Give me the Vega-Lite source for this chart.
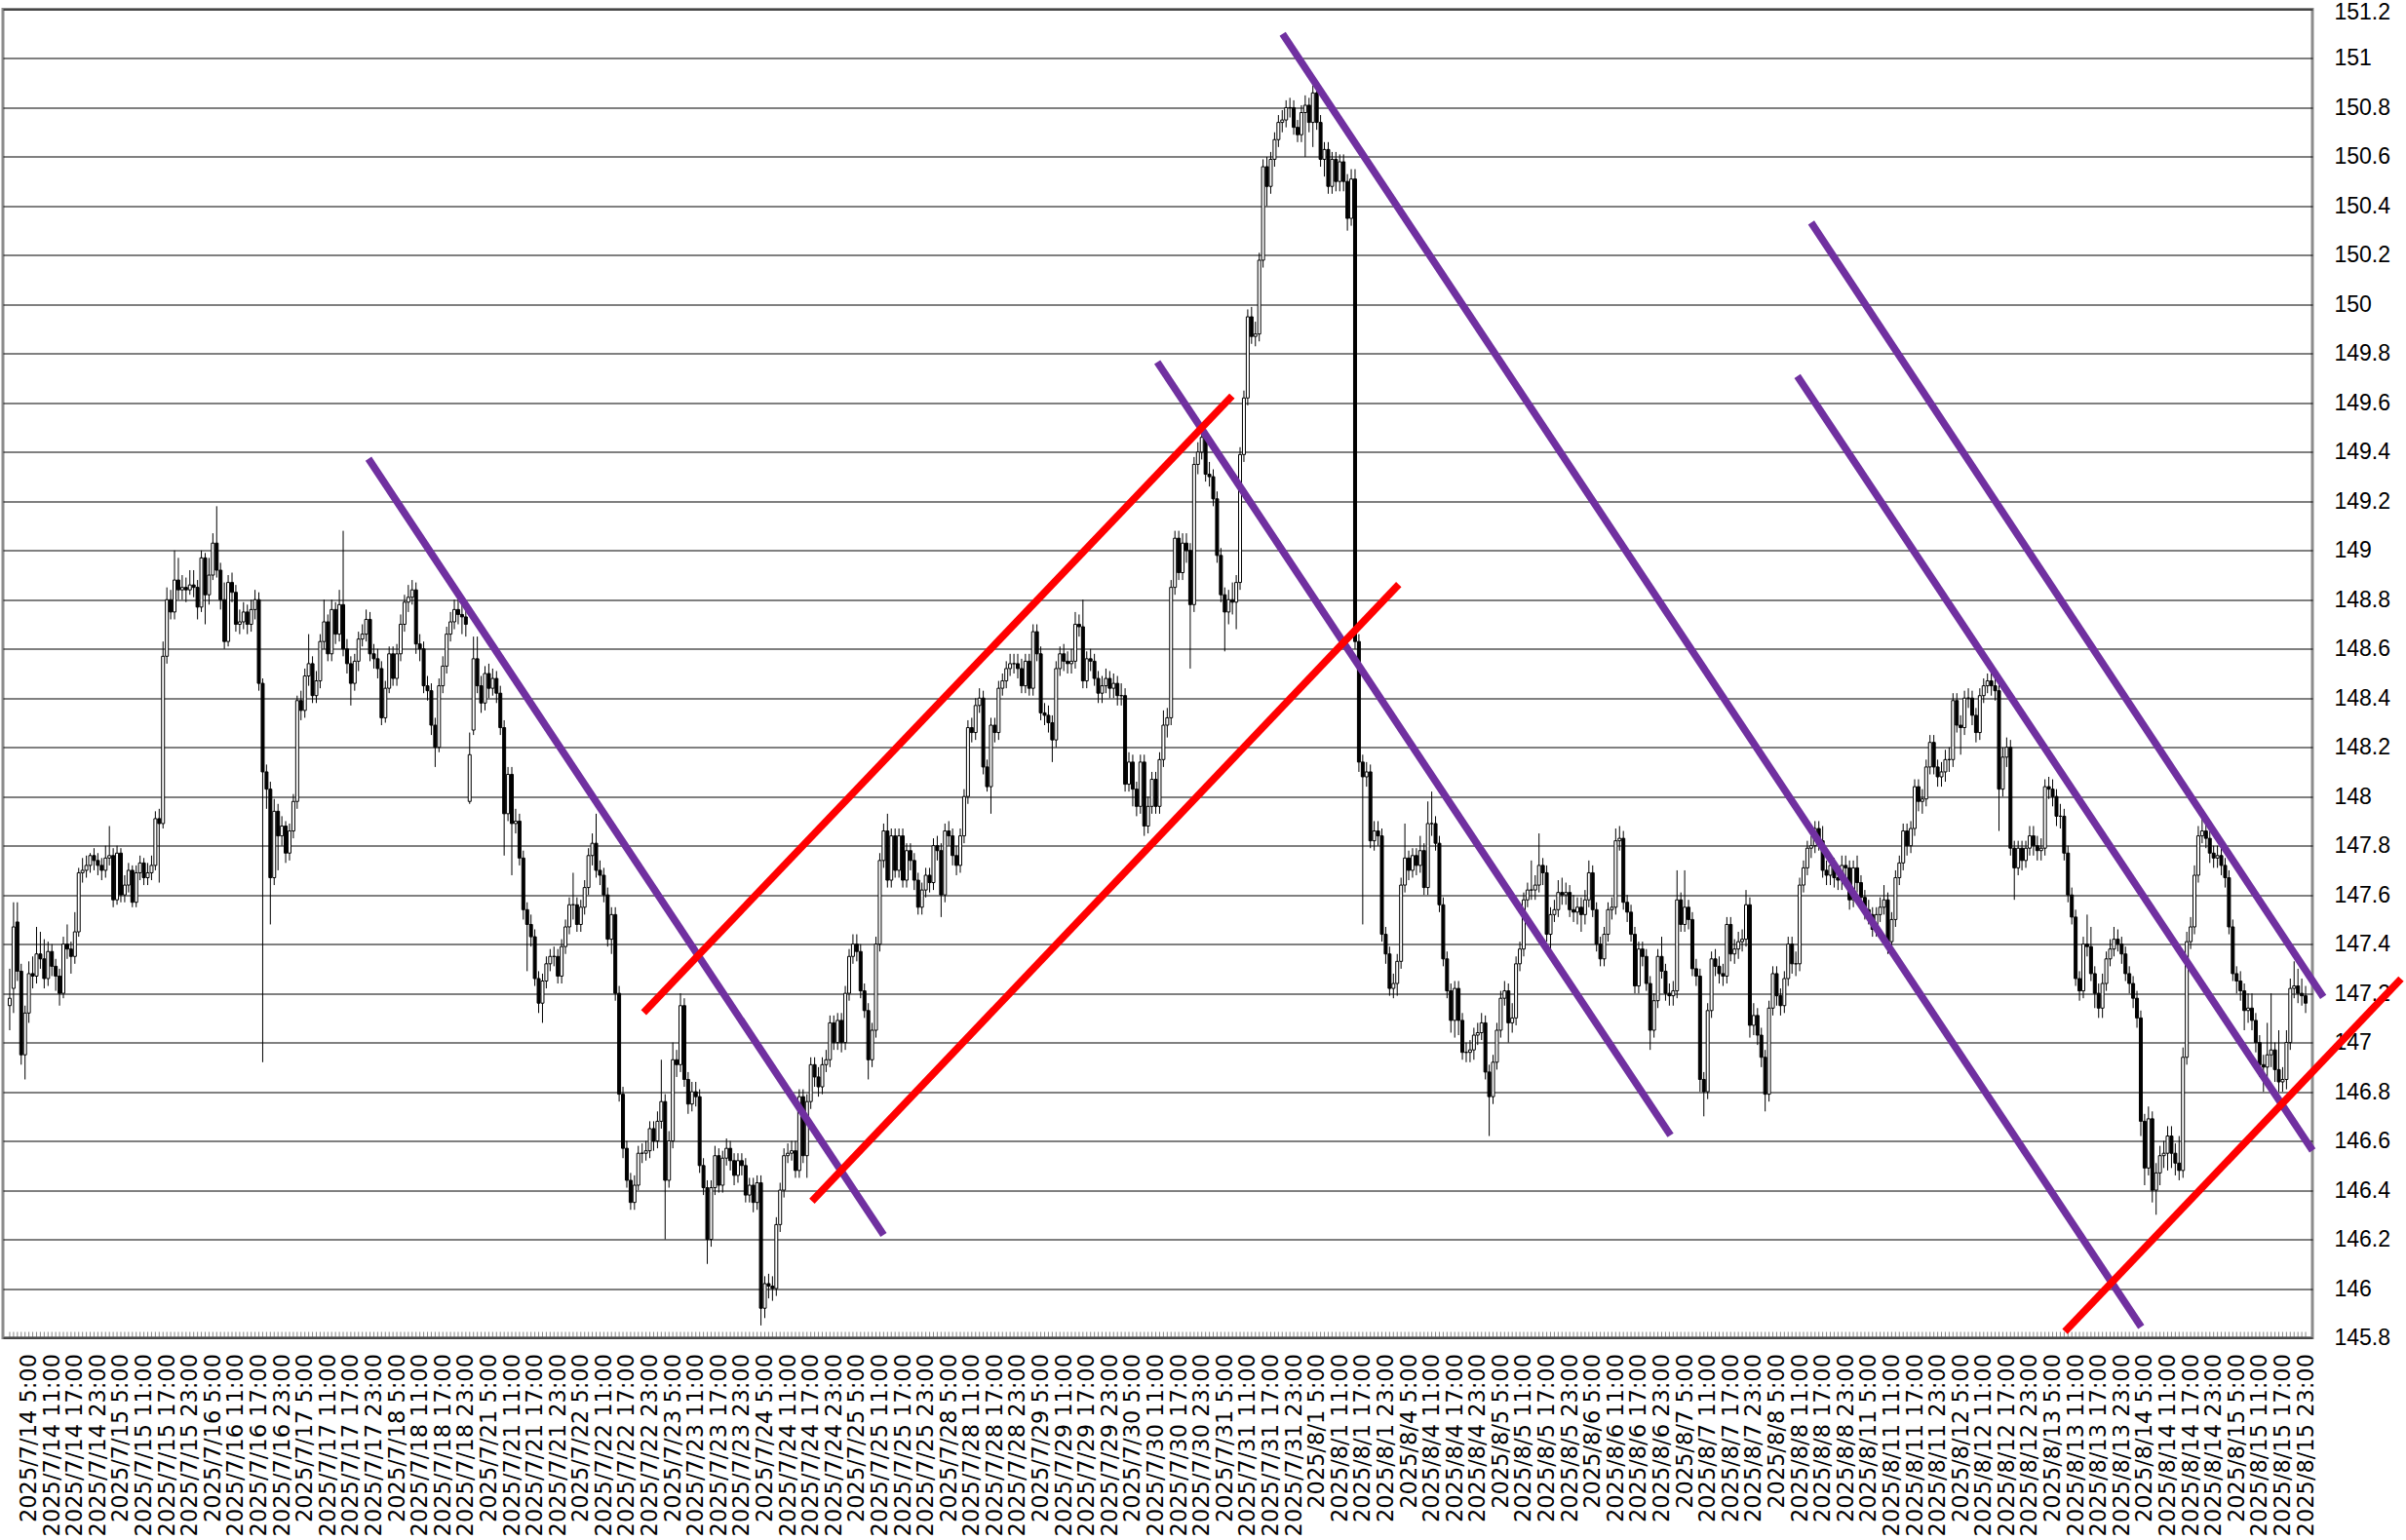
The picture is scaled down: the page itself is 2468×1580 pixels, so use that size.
{
"$schema":"https://vega.github.io/schema/vega-lite/v6.json",
"width":2369,"height":1363,
"autosize":{"type":"none"},
"padding":{"left":3,"top":9.5,"right":96,"bottom":207.5},
"background":"#ffffff",
"config":{"view":{"stroke":"#8c8c8c","strokeWidth":3}},
"resolve":{"axis":{"x":"independent","y":"independent"}},
"datasets":{
"candles":[
{"t":0,"o":147.15,"h":147.30,"l":147.05,"c":147.18},
{"t":1,"o":147.22,"h":147.57,"l":147.12,"c":147.47},
{"t":2,"o":147.49,"h":147.57,"l":147.25,"c":147.29},
{"t":3,"o":147.29,"h":147.32,"l":146.91,"c":146.95},
{"t":4,"o":146.95,"h":147.15,"l":146.85,"c":147.12},
{"t":5,"o":147.12,"h":147.33,"l":147.08,"c":147.28},
{"t":6,"o":147.28,"h":147.35,"l":147.22,"c":147.27},
{"t":7,"o":147.27,"h":147.47,"l":147.24,"c":147.36},
{"t":8,"o":147.36,"h":147.45,"l":147.30,"c":147.34},
{"t":9,"o":147.34,"h":147.42,"l":147.22,"c":147.26},
{"t":10,"o":147.26,"h":147.41,"l":147.23,"c":147.37},
{"t":11,"o":147.37,"h":147.40,"l":147.27,"c":147.31},
{"t":12,"o":147.31,"h":147.34,"l":147.21,"c":147.27},
{"t":13,"o":147.27,"h":147.30,"l":147.15,"c":147.20},
{"t":14,"o":147.20,"h":147.43,"l":147.18,"c":147.40},
{"t":15,"o":147.40,"h":147.48,"l":147.34,"c":147.38},
{"t":16,"o":147.38,"h":147.41,"l":147.28,"c":147.35},
{"t":17,"o":147.35,"h":147.53,"l":147.32,"c":147.45},
{"t":18,"o":147.45,"h":147.71,"l":147.43,"c":147.69},
{"t":19,"o":147.69,"h":147.75,"l":147.65,"c":147.70},
{"t":20,"o":147.70,"h":147.76,"l":147.67,"c":147.72},
{"t":21,"o":147.72,"h":147.77,"l":147.69,"c":147.76},
{"t":22,"o":147.76,"h":147.79,"l":147.70,"c":147.74},
{"t":23,"o":147.74,"h":147.77,"l":147.68,"c":147.72},
{"t":24,"o":147.72,"h":147.75,"l":147.66,"c":147.70},
{"t":25,"o":147.70,"h":147.80,"l":147.67,"c":147.75},
{"t":26,"o":147.75,"h":147.88,"l":147.72,"c":147.76},
{"t":27,"o":147.76,"h":147.79,"l":147.55,"c":147.58},
{"t":28,"o":147.58,"h":147.80,"l":147.56,"c":147.77},
{"t":29,"o":147.77,"h":147.79,"l":147.57,"c":147.60},
{"t":30,"o":147.60,"h":147.68,"l":147.57,"c":147.64},
{"t":31,"o":147.64,"h":147.73,"l":147.61,"c":147.70},
{"t":32,"o":147.70,"h":147.72,"l":147.55,"c":147.57},
{"t":33,"o":147.57,"h":147.72,"l":147.55,"c":147.69},
{"t":34,"o":147.69,"h":147.76,"l":147.66,"c":147.73},
{"t":35,"o":147.73,"h":147.75,"l":147.64,"c":147.67},
{"t":36,"o":147.67,"h":147.73,"l":147.64,"c":147.69},
{"t":37,"o":147.69,"h":147.76,"l":147.66,"c":147.72},
{"t":38,"o":147.72,"h":147.94,"l":147.70,"c":147.91},
{"t":39,"o":147.91,"h":147.95,"l":147.65,"c":147.89},
{"t":40,"o":147.89,"h":148.63,"l":147.87,"c":148.57},
{"t":41,"o":148.57,"h":148.85,"l":148.54,"c":148.80},
{"t":42,"o":148.80,"h":148.84,"l":148.72,"c":148.75},
{"t":43,"o":148.75,"h":149.00,"l":148.72,"c":148.88},
{"t":44,"o":148.88,"h":148.97,"l":148.80,"c":148.84},
{"t":45,"o":148.84,"h":148.90,"l":148.80,"c":148.85},
{"t":46,"o":148.85,"h":148.89,"l":148.79,"c":148.84},
{"t":47,"o":148.84,"h":148.92,"l":148.82,"c":148.86},
{"t":48,"o":148.86,"h":148.92,"l":148.81,"c":148.85},
{"t":49,"o":148.85,"h":148.88,"l":148.72,"c":148.77},
{"t":50,"o":148.77,"h":149.00,"l":148.75,"c":148.97},
{"t":51,"o":148.97,"h":148.99,"l":148.70,"c":148.82},
{"t":52,"o":148.82,"h":148.97,"l":148.78,"c":148.90},
{"t":53,"o":148.90,"h":149.07,"l":148.88,"c":149.03},
{"t":54,"o":149.03,"h":149.18,"l":148.89,"c":148.92},
{"t":55,"o":148.92,"h":148.95,"l":148.76,"c":148.80},
{"t":56,"o":148.80,"h":148.87,"l":148.60,"c":148.63},
{"t":57,"o":148.63,"h":148.90,"l":148.61,"c":148.87},
{"t":58,"o":148.87,"h":148.91,"l":148.79,"c":148.83},
{"t":59,"o":148.83,"h":148.86,"l":148.67,"c":148.70},
{"t":60,"o":148.70,"h":148.76,"l":148.66,"c":148.71},
{"t":61,"o":148.71,"h":148.79,"l":148.68,"c":148.75},
{"t":62,"o":148.75,"h":148.78,"l":148.66,"c":148.70},
{"t":63,"o":148.70,"h":148.80,"l":148.67,"c":148.76},
{"t":64,"o":148.76,"h":148.84,"l":148.72,"c":148.80},
{"t":65,"o":148.80,"h":148.83,"l":148.43,"c":148.46},
{"t":66,"o":148.46,"h":148.48,"l":146.92,"c":148.10},
{"t":67,"o":148.10,"h":148.13,"l":147.95,"c":148.03},
{"t":68,"o":148.03,"h":148.06,"l":147.48,"c":147.67},
{"t":69,"o":147.67,"h":147.99,"l":147.64,"c":147.94},
{"t":70,"o":147.94,"h":147.97,"l":147.70,"c":147.84},
{"t":71,"o":147.84,"h":147.92,"l":147.80,"c":147.88},
{"t":72,"o":147.88,"h":147.90,"l":147.73,"c":147.77},
{"t":73,"o":147.77,"h":147.89,"l":147.74,"c":147.86},
{"t":74,"o":147.86,"h":148.01,"l":147.83,"c":147.98},
{"t":75,"o":147.98,"h":148.41,"l":147.95,"c":148.39},
{"t":76,"o":148.39,"h":148.43,"l":148.31,"c":148.35},
{"t":77,"o":148.35,"h":148.52,"l":148.32,"c":148.49},
{"t":78,"o":148.49,"h":148.66,"l":148.45,"c":148.54},
{"t":79,"o":148.54,"h":148.57,"l":148.38,"c":148.41},
{"t":80,"o":148.41,"h":148.51,"l":148.38,"c":148.47},
{"t":81,"o":148.47,"h":148.66,"l":148.44,"c":148.63},
{"t":82,"o":148.63,"h":148.80,"l":148.60,"c":148.71},
{"t":83,"o":148.71,"h":148.74,"l":148.55,"c":148.58},
{"t":84,"o":148.58,"h":148.80,"l":148.55,"c":148.76},
{"t":85,"o":148.76,"h":148.79,"l":148.62,"c":148.66},
{"t":86,"o":148.66,"h":148.84,"l":148.63,"c":148.78},
{"t":87,"o":148.78,"h":149.08,"l":148.57,"c":148.60},
{"t":88,"o":148.60,"h":148.64,"l":148.50,"c":148.54},
{"t":89,"o":148.54,"h":148.57,"l":148.37,"c":148.46},
{"t":90,"o":148.46,"h":148.58,"l":148.43,"c":148.55},
{"t":91,"o":148.55,"h":148.67,"l":148.51,"c":148.64},
{"t":92,"o":148.64,"h":148.70,"l":148.61,"c":148.66},
{"t":93,"o":148.66,"h":148.76,"l":148.63,"c":148.72},
{"t":94,"o":148.72,"h":148.75,"l":148.55,"c":148.58},
{"t":95,"o":148.58,"h":148.62,"l":148.52,"c":148.56},
{"t":96,"o":148.56,"h":148.60,"l":148.48,"c":148.52},
{"t":97,"o":148.52,"h":148.55,"l":148.29,"c":148.32},
{"t":98,"o":148.32,"h":148.47,"l":148.30,"c":148.44},
{"t":99,"o":148.44,"h":148.61,"l":148.42,"c":148.58},
{"t":100,"o":148.58,"h":148.61,"l":148.45,"c":148.48},
{"t":101,"o":148.48,"h":148.62,"l":148.45,"c":148.58},
{"t":102,"o":148.58,"h":148.74,"l":148.55,"c":148.70},
{"t":103,"o":148.70,"h":148.82,"l":148.67,"c":148.79},
{"t":104,"o":148.79,"h":148.86,"l":148.75,"c":148.81},
{"t":105,"o":148.81,"h":148.88,"l":148.78,"c":148.84},
{"t":106,"o":148.84,"h":148.87,"l":148.58,"c":148.62},
{"t":107,"o":148.62,"h":148.66,"l":148.55,"c":148.60},
{"t":108,"o":148.60,"h":148.63,"l":148.42,"c":148.45},
{"t":109,"o":148.45,"h":148.49,"l":148.39,"c":148.43},
{"t":110,"o":148.43,"h":148.46,"l":148.25,"c":148.29},
{"t":111,"o":148.29,"h":148.32,"l":148.12,"c":148.20},
{"t":112,"o":148.20,"h":148.48,"l":148.18,"c":148.45},
{"t":113,"o":148.45,"h":148.57,"l":148.42,"c":148.53},
{"t":114,"o":148.53,"h":148.69,"l":148.50,"c":148.66},
{"t":115,"o":148.66,"h":148.75,"l":148.63,"c":148.71},
{"t":116,"o":148.71,"h":148.80,"l":148.68,"c":148.76},
{"t":117,"o":148.76,"h":148.81,"l":148.70,"c":148.74},
{"t":118,"o":148.74,"h":148.78,"l":148.66,"c":148.73},
{"t":119,"o":148.73,"h":148.76,"l":148.65,"c":148.70},
{"t":120,"o":147.98,"h":148.26,"l":147.97,"c":148.17},
{"t":121,"o":148.27,"h":148.65,"l":148.25,"c":148.56},
{"t":122,"o":148.56,"h":148.65,"l":148.42,"c":148.45},
{"t":123,"o":148.45,"h":148.49,"l":148.34,"c":148.38},
{"t":124,"o":148.38,"h":148.53,"l":148.35,"c":148.50},
{"t":125,"o":148.50,"h":148.54,"l":148.40,"c":148.44},
{"t":126,"o":148.44,"h":148.52,"l":148.41,"c":148.48},
{"t":127,"o":148.48,"h":148.51,"l":148.38,"c":148.42},
{"t":128,"o":148.42,"h":148.45,"l":148.25,"c":148.28},
{"t":129,"o":148.28,"h":148.31,"l":147.76,"c":147.93},
{"t":130,"o":147.93,"h":148.12,"l":147.90,"c":148.09},
{"t":131,"o":148.09,"h":148.12,"l":147.68,"c":147.89},
{"t":132,"o":147.89,"h":147.95,"l":147.85,"c":147.90},
{"t":133,"o":147.90,"h":147.93,"l":147.72,"c":147.75},
{"t":134,"o":147.75,"h":147.78,"l":147.50,"c":147.54},
{"t":135,"o":147.54,"h":147.57,"l":147.29,"c":147.48},
{"t":136,"o":147.48,"h":147.52,"l":147.39,"c":147.43},
{"t":137,"o":147.43,"h":147.46,"l":147.23,"c":147.26},
{"t":138,"o":147.26,"h":147.29,"l":147.12,"c":147.16},
{"t":139,"o":147.16,"h":147.28,"l":147.08,"c":147.25},
{"t":140,"o":147.25,"h":147.35,"l":147.22,"c":147.32},
{"t":141,"o":147.32,"h":147.38,"l":147.29,"c":147.35},
{"t":142,"o":147.35,"h":147.39,"l":147.31,"c":147.35},
{"t":143,"o":147.35,"h":147.38,"l":147.24,"c":147.27},
{"t":144,"o":147.27,"h":147.42,"l":147.24,"c":147.39},
{"t":145,"o":147.39,"h":147.50,"l":147.36,"c":147.47},
{"t":146,"o":147.47,"h":147.59,"l":147.44,"c":147.56},
{"t":147,"o":147.56,"h":147.69,"l":147.50,"c":147.56},
{"t":148,"o":147.56,"h":147.59,"l":147.45,"c":147.48},
{"t":149,"o":147.48,"h":147.58,"l":147.45,"c":147.55},
{"t":150,"o":147.55,"h":147.66,"l":147.52,"c":147.63},
{"t":151,"o":147.63,"h":147.79,"l":147.60,"c":147.76},
{"t":152,"o":147.76,"h":147.85,"l":147.72,"c":147.81},
{"t":153,"o":147.81,"h":147.93,"l":147.67,"c":147.70},
{"t":154,"o":147.70,"h":147.74,"l":147.64,"c":147.68},
{"t":155,"o":147.68,"h":147.71,"l":147.57,"c":147.60},
{"t":156,"o":147.60,"h":147.63,"l":147.39,"c":147.42},
{"t":157,"o":147.42,"h":147.55,"l":147.36,"c":147.52},
{"t":158,"o":147.52,"h":147.55,"l":147.17,"c":147.20},
{"t":159,"o":147.20,"h":147.23,"l":146.76,"c":146.79},
{"t":160,"o":146.79,"h":146.82,"l":146.53,"c":146.57},
{"t":161,"o":146.57,"h":146.60,"l":146.41,"c":146.44},
{"t":162,"o":146.44,"h":146.47,"l":146.32,"c":146.35},
{"t":163,"o":146.35,"h":146.46,"l":146.32,"c":146.42},
{"t":164,"o":146.42,"h":146.58,"l":146.40,"c":146.55},
{"t":165,"o":146.55,"h":146.59,"l":146.51,"c":146.55},
{"t":166,"o":146.55,"h":146.60,"l":146.52,"c":146.56},
{"t":167,"o":146.56,"h":146.68,"l":146.53,"c":146.65},
{"t":168,"o":146.65,"h":146.68,"l":146.56,"c":146.60},
{"t":169,"o":146.60,"h":146.72,"l":146.57,"c":146.68},
{"t":170,"o":146.68,"h":146.93,"l":146.65,"c":146.76},
{"t":171,"o":146.76,"h":146.79,"l":146.20,"c":146.44},
{"t":172,"o":146.44,"h":146.64,"l":146.41,"c":146.60},
{"t":173,"o":146.60,"h":147.00,"l":146.57,"c":146.93},
{"t":174,"o":146.93,"h":146.97,"l":146.86,"c":146.91},
{"t":175,"o":146.91,"h":147.20,"l":146.88,"c":147.15},
{"t":176,"o":147.15,"h":147.18,"l":146.82,"c":146.85},
{"t":177,"o":146.85,"h":146.88,"l":146.71,"c":146.75},
{"t":178,"o":146.75,"h":146.84,"l":146.72,"c":146.80},
{"t":179,"o":146.80,"h":146.84,"l":146.74,"c":146.78},
{"t":180,"o":146.78,"h":146.81,"l":146.47,"c":146.50},
{"t":181,"o":146.50,"h":146.53,"l":146.38,"c":146.41},
{"t":182,"o":146.41,"h":146.44,"l":146.10,"c":146.20},
{"t":183,"o":146.20,"h":146.44,"l":146.17,"c":146.41},
{"t":184,"o":146.41,"h":146.58,"l":146.38,"c":146.54},
{"t":185,"o":146.54,"h":146.57,"l":146.39,"c":146.42},
{"t":186,"o":146.42,"h":146.56,"l":146.39,"c":146.53},
{"t":187,"o":146.53,"h":146.61,"l":146.50,"c":146.57},
{"t":188,"o":146.57,"h":146.60,"l":146.48,"c":146.52},
{"t":189,"o":146.52,"h":146.55,"l":146.42,"c":146.46},
{"t":190,"o":146.46,"h":146.55,"l":146.43,"c":146.52},
{"t":191,"o":146.52,"h":146.55,"l":146.46,"c":146.50},
{"t":192,"o":146.50,"h":146.53,"l":146.35,"c":146.38},
{"t":193,"o":146.38,"h":146.45,"l":146.35,"c":146.42},
{"t":194,"o":146.42,"h":146.45,"l":146.31,"c":146.35},
{"t":195,"o":146.35,"h":146.46,"l":146.32,"c":146.43},
{"t":196,"o":146.43,"h":146.46,"l":145.85,"c":145.92},
{"t":197,"o":145.92,"h":146.05,"l":145.88,"c":146.02},
{"t":198,"o":146.02,"h":146.06,"l":145.96,"c":146.01},
{"t":199,"o":146.01,"h":146.05,"l":145.95,"c":146.00},
{"t":200,"o":146.00,"h":146.29,"l":145.97,"c":146.26},
{"t":201,"o":146.26,"h":146.43,"l":146.23,"c":146.40},
{"t":202,"o":146.40,"h":146.57,"l":146.37,"c":146.54},
{"t":203,"o":146.54,"h":146.59,"l":146.51,"c":146.55},
{"t":204,"o":146.55,"h":146.60,"l":146.52,"c":146.56},
{"t":205,"o":146.56,"h":146.60,"l":146.45,"c":146.48},
{"t":206,"o":146.48,"h":146.81,"l":146.45,"c":146.78},
{"t":207,"o":146.78,"h":146.81,"l":146.51,"c":146.54},
{"t":208,"o":146.54,"h":146.79,"l":146.45,"c":146.76},
{"t":209,"o":146.76,"h":146.94,"l":146.73,"c":146.91},
{"t":210,"o":146.91,"h":146.94,"l":146.82,"c":146.86},
{"t":211,"o":146.86,"h":146.90,"l":146.78,"c":146.82},
{"t":212,"o":146.82,"h":146.94,"l":146.79,"c":146.91},
{"t":213,"o":146.91,"h":146.97,"l":146.88,"c":146.93},
{"t":214,"o":146.93,"h":147.11,"l":146.90,"c":147.08},
{"t":215,"o":147.08,"h":147.11,"l":146.97,"c":147.00},
{"t":216,"o":147.00,"h":147.12,"l":146.97,"c":147.09},
{"t":217,"o":147.09,"h":147.12,"l":146.96,"c":147.00},
{"t":218,"o":147.00,"h":147.23,"l":146.97,"c":147.20},
{"t":219,"o":147.20,"h":147.38,"l":147.17,"c":147.35},
{"t":220,"o":147.35,"h":147.44,"l":147.32,"c":147.40},
{"t":221,"o":147.40,"h":147.44,"l":147.33,"c":147.37},
{"t":222,"o":147.37,"h":147.40,"l":147.18,"c":147.21},
{"t":223,"o":147.21,"h":147.24,"l":147.10,"c":147.13},
{"t":224,"o":147.13,"h":147.16,"l":146.85,"c":146.93},
{"t":225,"o":146.93,"h":147.08,"l":146.90,"c":147.05},
{"t":226,"o":147.05,"h":147.43,"l":147.02,"c":147.40},
{"t":227,"o":147.40,"h":147.77,"l":147.37,"c":147.74},
{"t":228,"o":147.74,"h":147.89,"l":147.71,"c":147.86},
{"t":229,"o":147.86,"h":147.93,"l":147.63,"c":147.66},
{"t":230,"o":147.66,"h":147.87,"l":147.63,"c":147.84},
{"t":231,"o":147.84,"h":147.87,"l":147.67,"c":147.70},
{"t":232,"o":147.70,"h":147.87,"l":147.67,"c":147.84},
{"t":233,"o":147.84,"h":147.87,"l":147.63,"c":147.66},
{"t":234,"o":147.66,"h":147.81,"l":147.63,"c":147.78},
{"t":235,"o":147.78,"h":147.81,"l":147.70,"c":147.74},
{"t":236,"o":147.74,"h":147.77,"l":147.62,"c":147.66},
{"t":237,"o":147.66,"h":147.69,"l":147.52,"c":147.55},
{"t":238,"o":147.55,"h":147.65,"l":147.52,"c":147.62},
{"t":239,"o":147.62,"h":147.71,"l":147.59,"c":147.68},
{"t":240,"o":147.68,"h":147.71,"l":147.61,"c":147.65},
{"t":241,"o":147.65,"h":147.83,"l":147.62,"c":147.80},
{"t":242,"o":147.80,"h":147.84,"l":147.74,"c":147.78},
{"t":243,"o":147.78,"h":147.81,"l":147.51,"c":147.60},
{"t":244,"o":147.60,"h":147.89,"l":147.57,"c":147.86},
{"t":245,"o":147.86,"h":147.90,"l":147.80,"c":147.84},
{"t":246,"o":147.84,"h":147.87,"l":147.72,"c":147.76},
{"t":247,"o":147.76,"h":147.80,"l":147.68,"c":147.72},
{"t":248,"o":147.72,"h":147.87,"l":147.69,"c":147.84},
{"t":249,"o":147.84,"h":148.03,"l":147.81,"c":148.00},
{"t":250,"o":148.00,"h":148.31,"l":147.97,"c":148.28},
{"t":251,"o":148.28,"h":148.32,"l":148.22,"c":148.26},
{"t":252,"o":148.26,"h":148.40,"l":148.23,"c":148.37},
{"t":253,"o":148.37,"h":148.44,"l":148.34,"c":148.40},
{"t":254,"o":148.40,"h":148.43,"l":148.09,"c":148.12},
{"t":255,"o":148.12,"h":148.15,"l":148.02,"c":148.04},
{"t":256,"o":148.04,"h":148.32,"l":147.93,"c":148.29},
{"t":257,"o":148.29,"h":148.32,"l":148.22,"c":148.26},
{"t":258,"o":148.26,"h":148.47,"l":148.23,"c":148.44},
{"t":259,"o":148.44,"h":148.50,"l":148.41,"c":148.47},
{"t":260,"o":148.47,"h":148.55,"l":148.44,"c":148.52},
{"t":261,"o":148.52,"h":148.58,"l":148.49,"c":148.54},
{"t":262,"o":148.54,"h":148.58,"l":148.50,"c":148.54},
{"t":263,"o":148.54,"h":148.58,"l":148.48,"c":148.52},
{"t":264,"o":148.52,"h":148.56,"l":148.42,"c":148.45},
{"t":265,"o":148.45,"h":148.58,"l":148.42,"c":148.55},
{"t":266,"o":148.55,"h":148.58,"l":148.41,"c":148.44},
{"t":267,"o":148.44,"h":148.70,"l":148.41,"c":148.67},
{"t":268,"o":148.67,"h":148.70,"l":148.55,"c":148.58},
{"t":269,"o":148.58,"h":148.61,"l":148.31,"c":148.34},
{"t":270,"o":148.34,"h":148.38,"l":148.29,"c":148.33},
{"t":271,"o":148.33,"h":148.37,"l":148.26,"c":148.30},
{"t":272,"o":148.30,"h":148.33,"l":148.14,"c":148.23},
{"t":273,"o":148.23,"h":148.55,"l":148.20,"c":148.52},
{"t":274,"o":148.52,"h":148.61,"l":148.49,"c":148.58},
{"t":275,"o":148.58,"h":148.62,"l":148.51,"c":148.55},
{"t":276,"o":148.55,"h":148.59,"l":148.50,"c":148.54},
{"t":277,"o":148.54,"h":148.60,"l":148.50,"c":148.55},
{"t":278,"o":148.55,"h":148.75,"l":148.52,"c":148.70},
{"t":279,"o":148.70,"h":148.74,"l":148.65,"c":148.69},
{"t":280,"o":148.69,"h":148.80,"l":148.44,"c":148.47},
{"t":281,"o":148.47,"h":148.59,"l":148.44,"c":148.56},
{"t":282,"o":148.56,"h":148.60,"l":148.51,"c":148.55},
{"t":283,"o":148.55,"h":148.58,"l":148.45,"c":148.48},
{"t":284,"o":148.48,"h":148.51,"l":148.38,"c":148.42},
{"t":285,"o":148.42,"h":148.49,"l":148.38,"c":148.45},
{"t":286,"o":148.45,"h":148.52,"l":148.42,"c":148.48},
{"t":287,"o":148.48,"h":148.51,"l":148.40,"c":148.44},
{"t":288,"o":148.44,"h":148.50,"l":148.40,"c":148.46},
{"t":289,"o":148.46,"h":148.49,"l":148.37,"c":148.41},
{"t":290,"o":148.41,"h":148.46,"l":148.37,"c":148.41},
{"t":291,"o":148.41,"h":148.44,"l":148.02,"c":148.05},
{"t":292,"o":148.05,"h":148.18,"l":148.02,"c":148.14},
{"t":293,"o":148.14,"h":148.17,"l":147.96,"c":148.03},
{"t":294,"o":148.03,"h":148.06,"l":147.92,"c":147.96},
{"t":295,"o":147.96,"h":148.17,"l":147.93,"c":148.14},
{"t":296,"o":148.14,"h":148.17,"l":147.84,"c":147.88},
{"t":297,"o":147.88,"h":148.00,"l":147.85,"c":147.96},
{"t":298,"o":147.96,"h":148.10,"l":147.93,"c":148.07},
{"t":299,"o":148.07,"h":148.10,"l":147.93,"c":147.96},
{"t":300,"o":147.96,"h":148.18,"l":147.93,"c":148.15},
{"t":301,"o":148.15,"h":148.35,"l":148.12,"c":148.29},
{"t":302,"o":148.29,"h":148.36,"l":148.24,"c":148.32},
{"t":303,"o":148.32,"h":148.88,"l":148.29,"c":148.85},
{"t":304,"o":148.85,"h":149.08,"l":148.82,"c":149.05},
{"t":305,"o":149.05,"h":149.08,"l":148.88,"c":148.91},
{"t":306,"o":148.91,"h":149.07,"l":148.88,"c":149.03},
{"t":307,"o":149.03,"h":149.07,"l":148.95,"c":149.00},
{"t":308,"o":149.00,"h":149.03,"l":148.52,"c":148.78},
{"t":309,"o":148.78,"h":149.38,"l":148.75,"c":149.35},
{"t":310,"o":149.35,"h":149.44,"l":149.31,"c":149.40},
{"t":311,"o":149.40,"h":149.50,"l":149.37,"c":149.46},
{"t":312,"o":149.46,"h":149.49,"l":149.28,"c":149.31},
{"t":313,"o":149.31,"h":149.36,"l":149.26,"c":149.30},
{"t":314,"o":149.30,"h":149.33,"l":149.18,"c":149.21},
{"t":315,"o":149.21,"h":149.24,"l":148.95,"c":148.98},
{"t":316,"o":148.98,"h":149.01,"l":148.79,"c":148.82},
{"t":317,"o":148.82,"h":148.85,"l":148.59,"c":148.75},
{"t":318,"o":148.75,"h":148.84,"l":148.70,"c":148.80},
{"t":319,"o":148.80,"h":148.87,"l":148.74,"c":148.79},
{"t":320,"o":148.79,"h":148.90,"l":148.68,"c":148.87},
{"t":321,"o":148.87,"h":149.42,"l":148.84,"c":149.39},
{"t":322,"o":149.39,"h":149.65,"l":149.36,"c":149.62},
{"t":323,"o":149.62,"h":149.98,"l":149.59,"c":149.95},
{"t":324,"o":149.95,"h":149.99,"l":149.84,"c":149.87},
{"t":325,"o":149.87,"h":149.93,"l":149.83,"c":149.88},
{"t":326,"o":149.88,"h":150.21,"l":149.85,"c":150.18},
{"t":327,"o":150.18,"h":150.59,"l":150.15,"c":150.56},
{"t":328,"o":150.56,"h":150.60,"l":150.40,"c":150.48},
{"t":329,"o":150.48,"h":150.62,"l":150.45,"c":150.59},
{"t":330,"o":150.59,"h":150.70,"l":150.56,"c":150.67},
{"t":331,"o":150.67,"h":150.77,"l":150.64,"c":150.74},
{"t":332,"o":150.74,"h":150.79,"l":150.70,"c":150.75},
{"t":333,"o":150.75,"h":150.83,"l":150.72,"c":150.80},
{"t":334,"o":150.80,"h":150.84,"l":150.76,"c":150.80},
{"t":335,"o":150.80,"h":150.83,"l":150.69,"c":150.72},
{"t":336,"o":150.72,"h":150.75,"l":150.66,"c":150.69},
{"t":337,"o":150.69,"h":150.81,"l":150.66,"c":150.78},
{"t":338,"o":150.78,"h":150.85,"l":150.60,"c":150.81},
{"t":339,"o":150.81,"h":150.84,"l":150.70,"c":150.74},
{"t":340,"o":150.74,"h":150.89,"l":150.64,"c":150.86},
{"t":341,"o":150.86,"h":150.91,"l":150.71,"c":150.74},
{"t":342,"o":150.74,"h":150.77,"l":150.56,"c":150.59},
{"t":343,"o":150.59,"h":150.66,"l":150.52,"c":150.63},
{"t":344,"o":150.63,"h":150.66,"l":150.45,"c":150.48},
{"t":345,"o":150.48,"h":150.62,"l":150.45,"c":150.59},
{"t":346,"o":150.59,"h":150.62,"l":150.46,"c":150.50},
{"t":347,"o":150.50,"h":150.61,"l":150.46,"c":150.58},
{"t":348,"o":150.58,"h":150.61,"l":150.46,"c":150.50},
{"t":349,"o":150.50,"h":150.53,"l":150.30,"c":150.35},
{"t":350,"o":150.35,"h":150.55,"l":150.32,"c":150.51},
{"t":351,"o":150.51,"h":150.55,"l":148.60,"c":148.63},
{"t":352,"o":148.63,"h":148.66,"l":148.10,"c":148.14},
{"t":353,"o":148.14,"h":148.17,"l":147.48,"c":148.08},
{"t":354,"o":148.08,"h":148.14,"l":148.04,"c":148.10},
{"t":355,"o":148.10,"h":148.13,"l":147.79,"c":147.82},
{"t":356,"o":147.82,"h":147.90,"l":147.78,"c":147.86},
{"t":357,"o":147.86,"h":147.90,"l":147.80,"c":147.84},
{"t":358,"o":147.84,"h":147.87,"l":147.41,"c":147.44},
{"t":359,"o":147.44,"h":147.47,"l":147.32,"c":147.36},
{"t":360,"o":147.36,"h":147.39,"l":147.19,"c":147.22},
{"t":361,"o":147.22,"h":147.28,"l":147.18,"c":147.24},
{"t":362,"o":147.24,"h":147.36,"l":147.19,"c":147.33},
{"t":363,"o":147.33,"h":147.67,"l":147.30,"c":147.64},
{"t":364,"o":147.64,"h":147.89,"l":147.61,"c":147.75},
{"t":365,"o":147.75,"h":147.78,"l":147.66,"c":147.70},
{"t":366,"o":147.70,"h":147.79,"l":147.67,"c":147.76},
{"t":367,"o":147.76,"h":147.79,"l":147.68,"c":147.72},
{"t":368,"o":147.72,"h":147.84,"l":147.69,"c":147.78},
{"t":369,"o":147.78,"h":147.81,"l":147.60,"c":147.63},
{"t":370,"o":147.63,"h":147.98,"l":147.60,"c":147.89},
{"t":371,"o":147.89,"h":148.02,"l":147.84,"c":147.89},
{"t":372,"o":147.89,"h":147.92,"l":147.78,"c":147.81},
{"t":373,"o":147.81,"h":147.84,"l":147.53,"c":147.56},
{"t":374,"o":147.56,"h":147.59,"l":147.31,"c":147.34},
{"t":375,"o":147.34,"h":147.37,"l":147.18,"c":147.21},
{"t":376,"o":147.21,"h":147.24,"l":147.04,"c":147.09},
{"t":377,"o":147.09,"h":147.25,"l":147.02,"c":147.22},
{"t":378,"o":147.22,"h":147.25,"l":147.03,"c":147.09},
{"t":379,"o":147.09,"h":147.12,"l":146.93,"c":146.96},
{"t":380,"o":146.96,"h":147.00,"l":146.92,"c":146.96},
{"t":381,"o":146.96,"h":147.01,"l":146.92,"c":146.97},
{"t":382,"o":146.97,"h":147.06,"l":146.93,"c":147.03},
{"t":383,"o":147.03,"h":147.08,"l":146.99,"c":147.04},
{"t":384,"o":147.04,"h":147.12,"l":147.01,"c":147.08},
{"t":385,"o":147.08,"h":147.11,"l":146.85,"c":146.88},
{"t":386,"o":146.88,"h":146.91,"l":146.62,"c":146.78},
{"t":387,"o":146.78,"h":146.95,"l":146.75,"c":146.92},
{"t":388,"o":146.92,"h":147.08,"l":146.89,"c":147.05},
{"t":389,"o":147.05,"h":147.21,"l":147.02,"c":147.18},
{"t":390,"o":147.18,"h":147.25,"l":147.15,"c":147.21},
{"t":391,"o":147.21,"h":147.24,"l":147.00,"c":147.08},
{"t":392,"o":147.08,"h":147.16,"l":147.04,"c":147.10},
{"t":393,"o":147.10,"h":147.35,"l":147.07,"c":147.32},
{"t":394,"o":147.32,"h":147.41,"l":147.29,"c":147.38},
{"t":395,"o":147.38,"h":147.61,"l":147.35,"c":147.58},
{"t":396,"o":147.58,"h":147.65,"l":147.55,"c":147.62},
{"t":397,"o":147.62,"h":147.74,"l":147.58,"c":147.62},
{"t":398,"o":147.62,"h":147.68,"l":147.58,"c":147.64},
{"t":399,"o":147.64,"h":147.85,"l":147.61,"c":147.72},
{"t":400,"o":147.72,"h":147.75,"l":147.64,"c":147.69},
{"t":401,"o":147.69,"h":147.72,"l":147.41,"c":147.44},
{"t":402,"o":147.44,"h":147.55,"l":147.38,"c":147.52},
{"t":403,"o":147.52,"h":147.58,"l":147.49,"c":147.54},
{"t":404,"o":147.54,"h":147.66,"l":147.51,"c":147.61},
{"t":405,"o":147.61,"h":147.67,"l":147.56,"c":147.60},
{"t":406,"o":147.60,"h":147.65,"l":147.56,"c":147.61},
{"t":407,"o":147.61,"h":147.64,"l":147.51,"c":147.54},
{"t":408,"o":147.54,"h":147.60,"l":147.49,"c":147.53},
{"t":409,"o":147.53,"h":147.59,"l":147.48,"c":147.55},
{"t":410,"o":147.55,"h":147.59,"l":147.45,"c":147.52},
{"t":411,"o":147.52,"h":147.62,"l":147.48,"c":147.58},
{"t":412,"o":147.58,"h":147.74,"l":147.55,"c":147.69},
{"t":413,"o":147.69,"h":147.72,"l":147.51,"c":147.54},
{"t":414,"o":147.54,"h":147.57,"l":147.37,"c":147.40},
{"t":415,"o":147.40,"h":147.43,"l":147.31,"c":147.34},
{"t":416,"o":147.34,"h":147.47,"l":147.31,"c":147.44},
{"t":417,"o":147.44,"h":147.57,"l":147.41,"c":147.54},
{"t":418,"o":147.54,"h":147.59,"l":147.50,"c":147.55},
{"t":419,"o":147.55,"h":147.87,"l":147.52,"c":147.82},
{"t":420,"o":147.82,"h":147.88,"l":147.78,"c":147.83},
{"t":421,"o":147.83,"h":147.86,"l":147.54,"c":147.57},
{"t":422,"o":147.57,"h":147.60,"l":147.49,"c":147.53},
{"t":423,"o":147.53,"h":147.56,"l":147.41,"c":147.44},
{"t":424,"o":147.44,"h":147.47,"l":147.20,"c":147.23},
{"t":425,"o":147.23,"h":147.41,"l":147.20,"c":147.38},
{"t":426,"o":147.38,"h":147.41,"l":147.31,"c":147.35},
{"t":427,"o":147.35,"h":147.38,"l":147.21,"c":147.24},
{"t":428,"o":147.24,"h":147.27,"l":146.97,"c":147.05},
{"t":429,"o":147.05,"h":147.20,"l":147.02,"c":147.17},
{"t":430,"o":147.17,"h":147.38,"l":147.14,"c":147.35},
{"t":431,"o":147.35,"h":147.43,"l":147.26,"c":147.29},
{"t":432,"o":147.29,"h":147.32,"l":147.17,"c":147.20},
{"t":433,"o":147.20,"h":147.24,"l":147.15,"c":147.19},
{"t":434,"o":147.19,"h":147.25,"l":147.15,"c":147.21},
{"t":435,"o":147.21,"h":147.70,"l":147.18,"c":147.58},
{"t":436,"o":147.58,"h":147.61,"l":147.45,"c":147.48},
{"t":437,"o":147.48,"h":147.70,"l":147.45,"c":147.55},
{"t":438,"o":147.55,"h":147.58,"l":147.46,"c":147.50},
{"t":439,"o":147.50,"h":147.53,"l":147.27,"c":147.30},
{"t":440,"o":147.30,"h":147.34,"l":147.23,"c":147.27},
{"t":441,"o":147.27,"h":147.30,"l":146.80,"c":146.85},
{"t":442,"o":146.85,"h":146.88,"l":146.70,"c":146.80},
{"t":443,"o":146.80,"h":147.16,"l":146.77,"c":147.13},
{"t":444,"o":147.13,"h":147.37,"l":147.10,"c":147.34},
{"t":445,"o":147.34,"h":147.38,"l":147.27,"c":147.31},
{"t":446,"o":147.31,"h":147.35,"l":147.24,"c":147.28},
{"t":447,"o":147.28,"h":147.32,"l":147.23,"c":147.27},
{"t":448,"o":147.27,"h":147.51,"l":147.24,"c":147.48},
{"t":449,"o":147.48,"h":147.51,"l":147.33,"c":147.36},
{"t":450,"o":147.36,"h":147.42,"l":147.32,"c":147.38},
{"t":451,"o":147.38,"h":147.45,"l":147.34,"c":147.41},
{"t":452,"o":147.41,"h":147.46,"l":147.37,"c":147.42},
{"t":453,"o":147.42,"h":147.62,"l":147.39,"c":147.56},
{"t":454,"o":147.56,"h":147.59,"l":147.02,"c":147.07},
{"t":455,"o":147.07,"h":147.16,"l":147.03,"c":147.11},
{"t":456,"o":147.11,"h":147.14,"l":146.99,"c":147.03},
{"t":457,"o":147.03,"h":147.06,"l":146.90,"c":146.94},
{"t":458,"o":146.94,"h":146.97,"l":146.72,"c":146.79},
{"t":459,"o":146.79,"h":147.17,"l":146.76,"c":147.14},
{"t":460,"o":147.14,"h":147.31,"l":147.11,"c":147.28},
{"t":461,"o":147.28,"h":147.31,"l":147.15,"c":147.19},
{"t":462,"o":147.19,"h":147.22,"l":147.11,"c":147.15},
{"t":463,"o":147.15,"h":147.29,"l":147.12,"c":147.26},
{"t":464,"o":147.26,"h":147.43,"l":147.23,"c":147.40},
{"t":465,"o":147.40,"h":147.43,"l":147.28,"c":147.32},
{"t":466,"o":147.32,"h":147.37,"l":147.27,"c":147.32},
{"t":467,"o":147.32,"h":147.67,"l":147.29,"c":147.64},
{"t":468,"o":147.64,"h":147.74,"l":147.61,"c":147.71},
{"t":469,"o":147.71,"h":147.82,"l":147.68,"c":147.79},
{"t":470,"o":147.79,"h":147.84,"l":147.75,"c":147.80},
{"t":471,"o":147.80,"h":147.90,"l":147.77,"c":147.87},
{"t":472,"o":147.87,"h":147.90,"l":147.78,"c":147.82},
{"t":473,"o":147.82,"h":147.88,"l":147.67,"c":147.70},
{"t":474,"o":147.70,"h":147.74,"l":147.64,"c":147.68},
{"t":475,"o":147.68,"h":147.76,"l":147.64,"c":147.72},
{"t":476,"o":147.72,"h":147.75,"l":147.63,"c":147.67},
{"t":477,"o":147.67,"h":147.71,"l":147.62,"c":147.66},
{"t":478,"o":147.66,"h":147.76,"l":147.62,"c":147.72},
{"t":479,"o":147.72,"h":147.76,"l":147.67,"c":147.71},
{"t":480,"o":147.71,"h":147.74,"l":147.54,"c":147.58},
{"t":481,"o":147.58,"h":147.74,"l":147.55,"c":147.71},
{"t":482,"o":147.71,"h":147.76,"l":147.61,"c":147.65},
{"t":483,"o":147.65,"h":147.68,"l":147.55,"c":147.59},
{"t":484,"o":147.59,"h":147.62,"l":147.50,"c":147.54},
{"t":485,"o":147.54,"h":147.58,"l":147.48,"c":147.52},
{"t":486,"o":147.52,"h":147.55,"l":147.43,"c":147.46},
{"t":487,"o":147.46,"h":147.55,"l":147.43,"c":147.52},
{"t":488,"o":147.52,"h":147.59,"l":147.49,"c":147.55},
{"t":489,"o":147.55,"h":147.64,"l":147.52,"c":147.58},
{"t":490,"o":147.58,"h":147.61,"l":147.36,"c":147.41},
{"t":491,"o":147.41,"h":147.53,"l":147.38,"c":147.50},
{"t":492,"o":147.50,"h":147.70,"l":147.47,"c":147.67},
{"t":493,"o":147.67,"h":147.76,"l":147.64,"c":147.73},
{"t":494,"o":147.73,"h":147.89,"l":147.70,"c":147.86},
{"t":495,"o":147.86,"h":147.89,"l":147.76,"c":147.80},
{"t":496,"o":147.80,"h":147.90,"l":147.77,"c":147.87},
{"t":497,"o":147.87,"h":148.07,"l":147.84,"c":148.04},
{"t":498,"o":148.04,"h":148.07,"l":147.94,"c":147.98},
{"t":499,"o":147.98,"h":148.03,"l":147.93,"c":147.99},
{"t":500,"o":147.99,"h":148.15,"l":147.96,"c":148.12},
{"t":501,"o":148.12,"h":148.25,"l":148.09,"c":148.22},
{"t":502,"o":148.22,"h":148.25,"l":148.09,"c":148.12},
{"t":503,"o":148.12,"h":148.15,"l":148.04,"c":148.08},
{"t":504,"o":148.08,"h":148.14,"l":148.04,"c":148.10},
{"t":505,"o":148.10,"h":148.19,"l":148.06,"c":148.15},
{"t":506,"o":148.15,"h":148.20,"l":148.10,"c":148.15},
{"t":507,"o":148.15,"h":148.42,"l":148.12,"c":148.39},
{"t":508,"o":148.39,"h":148.42,"l":148.26,"c":148.29},
{"t":509,"o":148.29,"h":148.33,"l":148.17,"c":148.28},
{"t":510,"o":148.28,"h":148.43,"l":148.25,"c":148.40},
{"t":511,"o":148.40,"h":148.44,"l":148.36,"c":148.40},
{"t":512,"o":148.40,"h":148.43,"l":148.29,"c":148.33},
{"t":513,"o":148.33,"h":148.36,"l":148.22,"c":148.26},
{"t":514,"o":148.26,"h":148.44,"l":148.23,"c":148.41},
{"t":515,"o":148.41,"h":148.48,"l":148.38,"c":148.45},
{"t":516,"o":148.45,"h":148.50,"l":148.42,"c":148.47},
{"t":517,"o":148.47,"h":148.51,"l":148.41,"c":148.45},
{"t":518,"o":148.45,"h":148.48,"l":148.39,"c":148.43},
{"t":519,"o":148.43,"h":148.46,"l":147.86,"c":148.03},
{"t":520,"o":148.03,"h":148.20,"l":148.00,"c":148.16},
{"t":521,"o":148.16,"h":148.24,"l":148.12,"c":148.20},
{"t":522,"o":148.20,"h":148.23,"l":147.76,"c":147.79},
{"t":523,"o":147.79,"h":147.82,"l":147.58,"c":147.71},
{"t":524,"o":147.71,"h":147.82,"l":147.68,"c":147.79},
{"t":525,"o":147.79,"h":147.82,"l":147.70,"c":147.74},
{"t":526,"o":147.74,"h":147.82,"l":147.71,"c":147.79},
{"t":527,"o":147.79,"h":147.88,"l":147.76,"c":147.84},
{"t":528,"o":147.84,"h":147.88,"l":147.76,"c":147.80},
{"t":529,"o":147.80,"h":147.84,"l":147.74,"c":147.78},
{"t":530,"o":147.78,"h":147.83,"l":147.74,"c":147.79},
{"t":531,"o":147.79,"h":148.07,"l":147.76,"c":148.04},
{"t":532,"o":148.04,"h":148.08,"l":147.99,"c":148.03},
{"t":533,"o":148.03,"h":148.07,"l":147.96,"c":148.00},
{"t":534,"o":148.00,"h":148.03,"l":147.88,"c":147.92},
{"t":535,"o":147.92,"h":147.97,"l":147.87,"c":147.92},
{"t":536,"o":147.92,"h":147.95,"l":147.74,"c":147.77},
{"t":537,"o":147.77,"h":147.80,"l":147.57,"c":147.60},
{"t":538,"o":147.60,"h":147.63,"l":147.48,"c":147.51},
{"t":539,"o":147.51,"h":147.54,"l":147.23,"c":147.26},
{"t":540,"o":147.26,"h":147.29,"l":147.17,"c":147.21},
{"t":541,"o":147.21,"h":147.43,"l":147.18,"c":147.40},
{"t":542,"o":147.40,"h":147.52,"l":147.35,"c":147.39},
{"t":543,"o":147.39,"h":147.47,"l":147.25,"c":147.28},
{"t":544,"o":147.28,"h":147.31,"l":147.14,"c":147.20},
{"t":545,"o":147.20,"h":147.24,"l":147.10,"c":147.14},
{"t":546,"o":147.14,"h":147.28,"l":147.10,"c":147.24},
{"t":547,"o":147.24,"h":147.37,"l":147.21,"c":147.34},
{"t":548,"o":147.34,"h":147.42,"l":147.31,"c":147.38},
{"t":549,"o":147.38,"h":147.47,"l":147.35,"c":147.42},
{"t":550,"o":147.42,"h":147.46,"l":147.37,"c":147.40},
{"t":551,"o":147.40,"h":147.43,"l":147.32,"c":147.36},
{"t":552,"o":147.36,"h":147.39,"l":147.25,"c":147.28},
{"t":553,"o":147.28,"h":147.31,"l":147.20,"c":147.24},
{"t":554,"o":147.24,"h":147.27,"l":147.14,"c":147.18},
{"t":555,"o":147.18,"h":147.21,"l":147.06,"c":147.10},
{"t":556,"o":147.10,"h":147.13,"l":146.62,"c":146.68},
{"t":557,"o":146.68,"h":146.71,"l":146.42,"c":146.49},
{"t":558,"o":146.49,"h":146.74,"l":146.46,"c":146.69},
{"t":559,"o":146.69,"h":146.72,"l":146.35,"c":146.40},
{"t":560,"o":146.40,"h":146.51,"l":146.30,"c":146.47},
{"t":561,"o":146.47,"h":146.58,"l":146.42,"c":146.54},
{"t":562,"o":146.54,"h":146.60,"l":146.49,"c":146.55},
{"t":563,"o":146.55,"h":146.66,"l":146.48,"c":146.62},
{"t":564,"o":146.62,"h":146.66,"l":146.49,"c":146.55},
{"t":565,"o":146.55,"h":146.59,"l":146.46,"c":146.51},
{"t":566,"o":146.51,"h":146.62,"l":146.44,"c":146.48},
{"t":567,"o":146.48,"h":146.98,"l":146.45,"c":146.94},
{"t":568,"o":146.94,"h":147.45,"l":146.91,"c":147.41},
{"t":569,"o":147.41,"h":147.51,"l":147.38,"c":147.47},
{"t":570,"o":147.47,"h":147.72,"l":147.44,"c":147.68},
{"t":571,"o":147.68,"h":147.88,"l":147.65,"c":147.84},
{"t":572,"o":147.84,"h":147.91,"l":147.81,"c":147.86},
{"t":573,"o":147.86,"h":147.90,"l":147.79,"c":147.83},
{"t":574,"o":147.83,"h":147.86,"l":147.73,"c":147.77},
{"t":575,"o":147.77,"h":147.80,"l":147.71,"c":147.75},
{"t":576,"o":147.75,"h":147.80,"l":147.71,"c":147.76},
{"t":577,"o":147.76,"h":147.79,"l":147.68,"c":147.72},
{"t":578,"o":147.72,"h":147.75,"l":147.63,"c":147.67},
{"t":579,"o":147.67,"h":147.70,"l":147.44,"c":147.47},
{"t":580,"o":147.47,"h":147.50,"l":147.25,"c":147.28},
{"t":581,"o":147.28,"h":147.31,"l":147.20,"c":147.25},
{"t":582,"o":147.25,"h":147.29,"l":147.17,"c":147.21},
{"t":583,"o":147.21,"h":147.24,"l":147.05,"c":147.13},
{"t":584,"o":147.13,"h":147.20,"l":147.08,"c":147.14},
{"t":585,"o":147.14,"h":147.20,"l":147.05,"c":147.09},
{"t":586,"o":147.09,"h":147.12,"l":146.96,"c":147.00},
{"t":587,"o":147.00,"h":147.03,"l":146.86,"c":146.91},
{"t":588,"o":146.91,"h":146.95,"l":146.80,"c":146.90},
{"t":589,"o":146.90,"h":147.08,"l":146.86,"c":146.95},
{"t":590,"o":146.95,"h":147.20,"l":146.90,"c":146.97},
{"t":591,"o":146.97,"h":147.00,"l":146.84,"c":146.89},
{"t":592,"o":146.89,"h":147.05,"l":146.80,"c":146.84},
{"t":593,"o":146.84,"h":146.90,"l":146.80,"c":146.85},
{"t":594,"o":146.85,"h":147.05,"l":146.81,"c":147.00},
{"t":595,"o":147.00,"h":147.26,"l":146.97,"c":147.22},
{"t":596,"o":147.22,"h":147.33,"l":147.18,"c":147.23},
{"t":597,"o":147.23,"h":147.30,"l":147.16,"c":147.20},
{"t":598,"o":147.20,"h":147.26,"l":147.15,"c":147.19},
{"t":599,"o":147.19,"h":147.23,"l":147.12,"c":147.16}
],
"lines":[
{"id":"P1","t":93.6,"p":149.373},{"id":"P1","t":228.0,"p":146.218},
{"id":"P2","t":299.4,"p":149.766},{"id":"P2","t":433.3,"p":146.623},
{"id":"P3","t":332.1,"p":151.1},{"id":"P3","t":556.1,"p":145.844},
{"id":"P4","t":466.4,"p":149.709},{"id":"P4","t":600.8,"p":146.561},
{"id":"P5","t":470.0,"p":150.333},{"id":"P5","t":603.6,"p":147.185},
{"id":"R1","t":165.4,"p":147.122},{"id":"R1","t":318.9,"p":149.628},
{"id":"R2","t":209.3,"p":146.355},{"id":"R2","t":362.4,"p":148.862},
{"id":"R3","t":536.2,"p":145.825},{"id":"R3","t":623.9,"p":147.259}
]
},
"layer":[
{
"data":{"name":"candles"},
"mark":{"type":"rule","color":"#000000","strokeWidth":1},
"encoding":{
"x":{"field":"t","type":"quantitative","scale":{"domain":[-0.5,599.5],"nice":false,"zero":false},
"axis":{"values":[5,11,17,23,29,35,41,47,53,59,65,71,77,83,89,95,101,107,113,119,125,131,137,143,149,155,161,167,173,179,185,191,197,203,209,215,221,227,233,239,245,251,257,263,269,275,281,287,293,299,305,311,317,323,329,335,341,347,353,359,365,371,377,383,389,395,401,407,413,419,425,431,437,443,449,455,461,467,473,479,485,491,497,503,509,515,521,527,533,539,545,551,557,563,569,575,581,587,593,599],
"labelExpr":"'2025/' + ['7/14','7/15','7/16','7/17','7/18','7/21','7/22','7/23','7/24','7/25','7/28','7/29','7/30','7/31','8/1','8/4','8/5','8/6','8/7','8/8','8/11','8/12','8/13','8/14','8/15'][floor(datum.value/24)] + ' ' + (datum.value % 24) + ':00'",
"labelAngle":-90,"labelFont":"DejaVu Sans","labelFontSize":22.5,"labelColor":"#000000","labelPadding":16,"labelLimit":0,
"labelOverlap":false,"labelFlush":false,"labelBound":false,"ticks":false,"domain":false,"grid":false,"title":null}},
"y":{"field":"l","type":"quantitative","scale":{"domain":[145.8,151.2],"nice":false,"zero":false},
"axis":{"orient":"right","values":[145.8,146,146.2,146.4,146.6,146.8,147,147.2,147.4,147.6,147.8,148,148.2,148.4,148.6,148.8,149,149.2,149.4,149.6,149.8,150,150.2,150.4,150.6,150.8,151,151.2],
"format":"~g","labelFont":"Liberation Sans","labelFontSize":23,"labelColor":"#000000","labelPadding":22,"labelLimit":0,
"labelOffset":{"condition":{"test":"datum.value > 151.1","value":3},"value":0},
"ticks":false,"domain":false,"grid":true,"gridColor":"#000000","gridWidth":1,"gridOpacity":1,"title":null}},
"y2":{"field":"h"}
}
},
{
"data":{"name":"candles"},
"mark":{"type":"bar","size":3,"stroke":"#000000","strokeWidth":1},
"encoding":{
"x":{"field":"t","type":"quantitative","scale":{"domain":[-0.5,599.5],"nice":false,"zero":false},"axis":null},
"y":{"field":"o","type":"quantitative","scale":{"domain":[145.8,151.2],"nice":false,"zero":false},"axis":null},
"y2":{"field":"c"},
"fill":{"condition":{"test":"datum.c >= datum.o","value":"#ffffff"},"value":"#000000"}
}
},
{
"data":{"name":"candles"},
"mark":{"type":"tick","color":"#555555","orient":"vertical","size":6,"thickness":1,"yOffset":-3},
"encoding":{
"x":{"field":"t","type":"quantitative","scale":{"domain":[-0.5,599.5],"nice":false,"zero":false},"axis":null},
"y":{"datum":145.8,"type":"quantitative","scale":{"domain":[145.8,151.2],"nice":false,"zero":false},"axis":null}
}
},
{
"data":{"name":"lines"},
"transform":[{"filter":"indexof(datum.id,'P') == 0"}],
"mark":{"type":"line","color":"#7030a0","strokeWidth":7.5,"clip":false},
"encoding":{
"x":{"field":"t","type":"quantitative","scale":{"domain":[-0.5,599.5],"nice":false,"zero":false},"axis":null},
"y":{"field":"p","type":"quantitative","scale":{"domain":[145.8,151.2],"nice":false,"zero":false},"axis":null},
"detail":{"field":"id"}
}
},
{
"data":{"name":"lines"},
"transform":[{"filter":"indexof(datum.id,'R') == 0"}],
"mark":{"type":"line","color":"#ff0000","strokeWidth":7.5,"clip":false},
"encoding":{
"x":{"field":"t","type":"quantitative","scale":{"domain":[-0.5,599.5],"nice":false,"zero":false},"axis":null},
"y":{"field":"p","type":"quantitative","scale":{"domain":[145.8,151.2],"nice":false,"zero":false},"axis":null},
"detail":{"field":"id"}
}
}
]
}
